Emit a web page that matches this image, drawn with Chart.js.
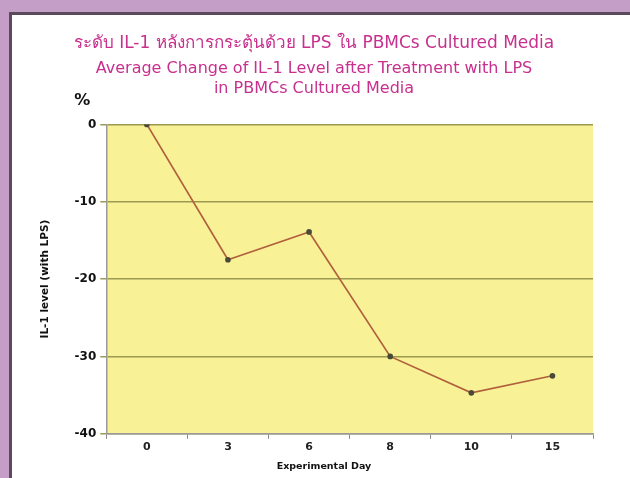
<!DOCTYPE html>
<html>
<head>
<meta charset="utf-8">
<script src="https://cdn.jsdelivr.net/npm/chart.js@4"></script>
<style>
  html, body { margin:0; padding:0; }
  body { width:630px; height:478px; background:#c49ec6; position:relative; overflow:hidden; }
  .panel { position:absolute; left:9px; top:12px; right:0; bottom:0; background:#fff;
           border-left:3px solid #5a4a5c; border-top:3px solid #5a4a5c; }
  #c { position:absolute; left:0; top:0; }
</style>
</head>
<body>
<div class="panel"></div>
<canvas id="c" width="630" height="478"></canvas>
<script>
const days   = ["0", "3", "6", "8", "10", "15"];
const il1Pct = [0, -17.5, -13.9, -30, -34.7, -32.5];
const yTicks = [0, -10, -20, -30, -40];

const titleThai = "ระดับ IL-1 หลังการกระตุ้นด้วย LPS ใน PBMCs Cultured Media";
const titleEng  = ["Average Change of IL-1 Level after Treatment with LPS", "in PBMCs Cultured Media"];

const FONT = "'DejaVu Sans', Verdana, sans-serif";

// yellow plot background + the "%" and x title text
const extras = {
  id: "extras",
  beforeDraw(c){
    const { ctx, chartArea: a } = c;
    ctx.save();
    ctx.fillStyle = "#f8f196";
    ctx.fillRect(a.left, a.top, a.right - a.left, a.bottom - a.top);
    ctx.restore();
  },
  afterDraw(c){
    const { ctx, chartArea: a } = c;
    ctx.save();
    ctx.fillStyle = "#111";
    ctx.font = "bold 16px " + FONT;
    ctx.textAlign = "center";
    ctx.textBaseline = "middle";
    ctx.fillText("%", a.left - 24, a.top - 24);
    ctx.font = "bold 9.5px " + FONT;
    ctx.fillText("Experimental Day", 324, 467);
    ctx.restore();
  }
};

new Chart(document.getElementById("c"), {
  type: "line",
  data: {
    labels: days,
    datasets: [{
      data: il1Pct,
      borderColor: "#b0603c",
      borderWidth: 1.7,
      pointRadius: 2,
      pointBackgroundColor: "#4a4a3a",
      pointBorderColor: "#4a4a3a",
      tension: 0
    }]
  },
  options: {
    responsive: false,
    animation: false,
    layout: { padding: { left: 35, right: 37, top: 6, bottom: 22 } },
    plugins: {
      legend: { display: false },
      tooltip: { enabled: false },
      title: {
        display: true, text: titleThai, color: "#c8308e",
        font: { family: FONT, size: 17, weight: "normal", lineHeight: 1.2 },
        padding: { top: 27, bottom: 5 }
      },
      subtitle: {
        display: true, text: titleEng, color: "#c8308e",
        font: { family: FONT, size: 16, weight: "normal", lineHeight: 1.25 },
        padding: { top: 0, bottom: 26 }
      }
    },
    scales: {
      x: {
        offset: true,
        grid: { drawOnChartArea: false, offset: true, tickLength: 5, color: "#888" },
        border: { color: "#999", width: 1.5 },
        ticks: { color: "#222", font: { family: FONT, size: 11, weight: "bold" }, padding: 2 }
      },
      y: {
        min: -40, max: 0,
        afterBuildTicks: s => { s.ticks = yTicks.map(v => ({ value: v })); },
        grid: { color: "#9c9a50", lineWidth: 1.5, tickLength: 6, drawTicks: true },
        border: { color: "#999", width: 1.5 },
        ticks: { color: "#111", font: { family: FONT, size: 12, weight: "bold" }, padding: 4 },
        title: {
          display: true, text: "IL-1 level (with LPS)", color: "#111",
          font: { family: FONT, size: 10.5, weight: "bold" }, padding: { bottom: 19 }
        }
      }
    }
  },
  plugins: [extras]
});
</script>
</body>
</html>
